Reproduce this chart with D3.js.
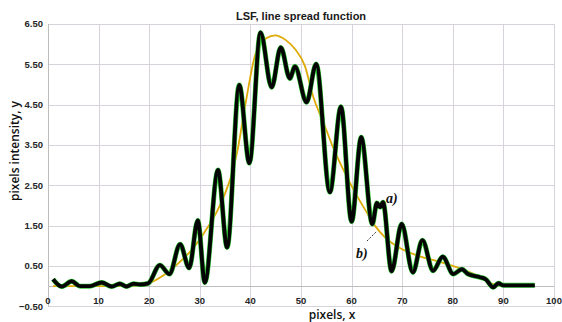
<!DOCTYPE html>
<html>
<head>
<meta charset="utf-8">
<script src="https://cdn.jsdelivr.net/npm/d3@7"></script>
<style>
  html, body { margin: 0; padding: 0; background: #fff; }
  svg { display: block; }
  .tick-y, .tick-x { font-family: "Liberation Sans", Arial, sans-serif; font-weight: bold; font-size: 9.5px; fill: #262626; }
  .title { font-family: "Liberation Sans", Arial, sans-serif; font-weight: bold; font-size: 11px; fill: #1a1a1a; }
  .axis-title { font-family: "Open Sans", "Liberation Sans", sans-serif; font-weight: 600; font-size: 12px; fill: #111; }
  .mark-label { font-family: "Liberation Serif", "DejaVu Serif", serif; font-style: italic; font-weight: bold; font-size: 14px; fill: #111; }
</style>
</head>
<body>
<svg id="chart" width="562" height="322"></svg>
<script>
// a) measured line spread function (pixel intensity vs pixel position)
const lsfX = [1, 2.7, 4.7, 6.3, 8.3, 10.6, 12.6, 14.2, 15.5, 16.9, 18.2, 19.8,
  22.1, 24.0, 26.1, 27.9, 29.6, 31.0, 33.6, 35.4, 37.8, 39.8, 42.0, 44.2,
  46.0, 47.8, 48.8, 51.1, 53.0, 55.7, 57.9, 60.0, 61.9, 64.1, 65.0, 65.6,
  66.2, 67.9, 69.9, 72.1, 74.0, 76.1, 78.0, 80.1, 81.8, 83.0, 85.4, 86.5,
  88.0, 89.0, 90.0, 96.2];
const lsfY = [0.17, -0.01, 0.12, 0.0, 0.0, 0.09, -0.01, 0.06, -0.01, 0.06, 0.04, 0.07,
  0.52, 0.30, 1.04, 0.45, 1.63, 0.09, 2.88, 0.96, 4.99, 3.05, 6.29, 4.93,
  5.92, 5.15, 5.45, 4.56, 5.51, 2.33, 4.45, 1.60, 3.69, 1.54, 2.06, 1.96,
  2.08, 0.37, 1.54, 0.34, 1.14, 0.38, 0.73, 0.30, 0.42, 0.30, 0.22, 0.17,
  -0.03, 0.07, 0.02, 0.02];

// b) smooth fitted profile
const fitX = [1, 5, 10, 15, 19, 20.5, 23, 25.8, 28.4, 31, 33.3, 35.3, 36.6, 37.5,
  39, 41, 43.2, 44.9, 47, 48.8, 50.8, 52.4, 54.4, 56.4, 58.7, 60.7, 62.6,
  64.6, 66.6, 69.9, 73.2, 76, 80, 85, 88, 90];
const fitY = [0, 0, 0, 0, 0.03, 0.1, 0.28, 0.57, 0.9, 1.35, 1.83, 2.4, 2.9, 3.4,
  4.5, 5.75, 6.15, 6.22, 6.1, 5.88, 5.45, 4.7, 4.07, 3.42, 2.8, 2.32, 1.91,
  1.5, 1.21, 0.92, 0.75, 0.65, 0.5, 0.25, 0.05, 0.0];

const xTicks = [0, 10, 20, 30, 40, 50, 60, 70, 80, 90, 100];
const yTicks = [-0.5, 0.5, 1.5, 2.5, 3.5, 4.5, 5.5, 6.5];

const svg = d3.select("#chart");
const x = d3.scaleLinear().domain([0, 100]).range([48, 554]);
const y = d3.scaleLinear().domain([-0.5, 6.5]).range([306.3, 24]);

// grid
const grid = svg.append("g").attr("stroke", "#d8d3da").attr("stroke-width", 1);
grid.selectAll("line.h").data(yTicks).join("line")
  .attr("x1", x(0)).attr("x2", x(100))
  .attr("y1", d => Math.round(y(d)) + 0.5).attr("y2", d => Math.round(y(d)) + 0.5);
grid.selectAll("line.v").data(xTicks.slice(1)).join("line")
  .attr("y1", y(6.5)).attr("y2", y(-0.5))
  .attr("x1", d => Math.round(x(d)) + 0.5).attr("x2", d => Math.round(x(d)) + 0.5);

// axis lines
svg.append("line").attr("x1", Math.round(x(0)) + 0.5).attr("x2", Math.round(x(0)) + 0.5)
  .attr("y1", y(6.5)).attr("y2", y(-0.5)).attr("stroke", "#bdbdbd");
svg.append("line").attr("x1", x(0)).attr("x2", x(100))
  .attr("y1", Math.round(y(0)) + 0.5).attr("y2", Math.round(y(0)) + 0.5).attr("stroke", "#bdbdbd");

// tick labels
svg.selectAll("text.tick-y").data(yTicks).join("text")
  .attr("class", "tick-y")
  .attr("x", 43).attr("y", d => y(d)).attr("dy", "0.35em")
  .attr("text-anchor", "end")
  .text(d => d3.format(".2f")(d));
svg.selectAll("text.tick-x").data(xTicks).join("text")
  .attr("class", "tick-x")
  .attr("x", d => x(d)).attr("y", 300.5).attr("dy", "0.35em")
  .attr("text-anchor", "middle")
  .text(d => d);

// titles
svg.append("text").attr("class", "title").attr("x", 301).attr("y", 20)
  .attr("text-anchor", "middle").text("LSF, line spread function");
svg.append("text").attr("class", "axis-title").attr("x", 332).attr("y", 318.5)
  .attr("text-anchor", "middle").text("pixels, x");
svg.append("text").attr("class", "axis-title")
  .attr("transform", "translate(19,151) rotate(-90)")
  .attr("text-anchor", "middle").text("pixels intensity, y");

// curves
const fitPts = fitX.map((v, i) => [v, fitY[i]]);
const lsfPts = lsfX.map((v, i) => [v, lsfY[i]]);
const line = d3.line().x(d => x(d[0])).y(d => y(d[1])).curve(d3.curveMonotoneX);

svg.append("path").attr("d", line(fitPts)).attr("fill", "none")
  .attr("stroke", "#deaa06").attr("stroke-width", 1.8);
svg.append("path").attr("d", line(lsfPts)).attr("fill", "none")
  .attr("stroke", "#33cc3a").attr("stroke-width", 5).attr("stroke-linejoin", "round");
svg.append("path").attr("d", line(lsfPts)).attr("fill", "none")
  .attr("stroke", "#050505").attr("stroke-width", 3.9).attr("stroke-linejoin", "round");

// series labels
svg.append("text").attr("class", "mark-label").attr("x", 386).attr("y", 203).text("a)");
svg.append("text").attr("class", "mark-label").attr("x", 356).attr("y", 258).text("b)");
svg.append("line").attr("x1", 367).attr("y1", 241).attr("x2", 377).attr("y2", 231)
  .attr("stroke", "#333").attr("stroke-width", 1).attr("stroke-dasharray", "2,1.5");
</script>
</body>
</html>
